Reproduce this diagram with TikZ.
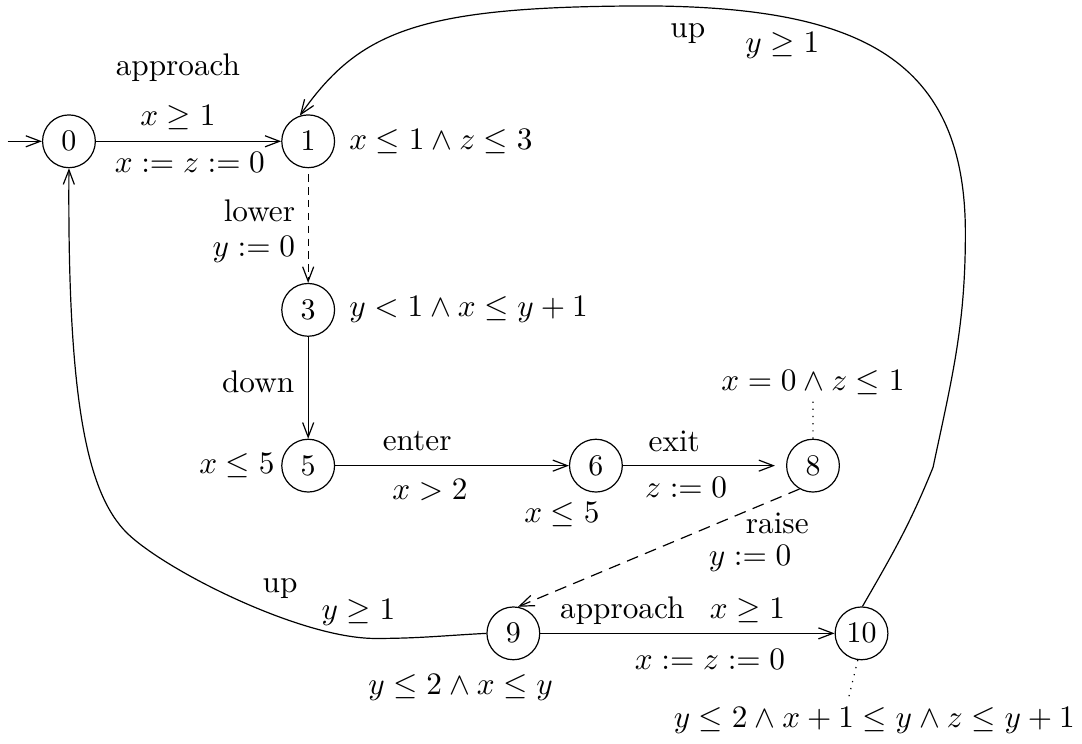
\documentclass[tikz,border=0pt]{standalone}
\usepackage{amsmath,amssymb}
\usetikzlibrary{arrows.meta}

\begin{document}
\begin{tikzpicture}[>={Straight Barb[length=1.7mm,width=1.3mm]},
	loc/.style={circle, draw, minimum size=6.2mm, inner sep=0pt},
	lab/.style={inner sep=1pt, scale=1.045}]
	\useasboundingbox (0,0) rectangle (12.71,8.73);
	% locations
	\node[loc] (n0) at (0.81,7.07) {$0$};
	\node[loc] (n1) at (3.62,7.07) {$1$};
	\node[loc] (n3) at (3.62,5.09) {$3$};
	\node[loc] (n5) at (3.62,3.26) {$5$};
	\node[loc] (n6) at (7.00,3.26) {$6$};
	\node[loc] (n8) at (9.55,3.26) {$8$};
	\node[loc] (n9) at (6.03,1.29) {$9$};
	\node[loc] (n10) at (10.12,1.29) {$10$};
	% invariants
	\node[lab, anchor=west] (inv1) at (4.06,7.07) {$x\leq 1\wedge z\leq 3$};
	\node[lab, anchor=west] (inv3) at (4.06,5.09) {$y<1\wedge x\leq y+1$};
	\node[lab, anchor=east] (inv5) at (3.27,3.26) {$x\leq 5$};
	\node[lab] (inv6) at (6.60,2.68) {$x\leq 5$};
	\node[lab] (inv8) at (9.55,4.24) {$x=0\wedge z\leq 1$};
	\node[lab] (inv9) at (5.41,0.65) {$y\leq 2\wedge x\leq y$};
	\node[lab] (inv10) at (10.27,0.27) {$y\leq 2\wedge x+1\leq y\wedge z\leq y+1$};
	% edge labels
	\node[lab] (act01) at (2.09,7.93) {approach};
	\node[lab] (grd01) at (2.09,7.35) {$x\geq 1$};
	\node[lab] (rst01) at (2.23,6.82) {$x:=z:=0$};
	\node[lab, anchor=east] (act13) at (3.51,6.25) {lower};
	\node[lab, anchor=east] (rst13) at (3.51,5.80) {$y:=0$};
	\node[lab, anchor=east] (act35) at (3.50,4.25) {down};
	\node[lab] (act56) at (4.90,3.55) {enter};
	\node[lab] (grd56) at (5.05,2.97) {$x>2$};
	\node[lab] (act68) at (7.92,3.55) {exit};
	\node[lab] (rst68) at (8.06,3.01) {$z:=0$};
	\node[lab] (act89) at (9.13,2.58) {raise};
	\node[lab] (rst89) at (8.81,2.17) {$y:=0$};
	\node[lab] (act90) at (3.29,1.82) {up};
	\node[lab] (grd90) at (4.21,1.54) {$y\geq 1$};
	\node[lab] (act910) at (7.31,1.56) {approach};
	\node[lab] (grd910) at (8.78,1.56) {$x\geq 1$};
	\node[lab] (rst910) at (8.34,0.98) {$x:=z:=0$};
	\node[lab] (act101) at (8.08,8.34) {up};
	\node[lab] (grd101) at (9.19,8.20) {$y\geq 1$};
	% helper points
	\coordinate (start) at (0.09,7.07);
	\coordinate (d10) at (9.96,0.50);
	\coordinate (r1) at (10.96,3.24);
	\coordinate (r2) at (11.34,5.99);
	\coordinate (r3) at (7.64,8.66);
	\coordinate (w1) at (4.41,1.23);
	\coordinate (w2) at (1.49,2.47);
	% transitions
	\draw[->] (start) -- (n0);
	\draw[->] (n0) -- (n1);
	\draw[->, dash pattern=on 2.5pt off 1.8pt, shorten <=2pt] (n1) -- (n3);
	\draw[->] (n3) -- (n5);
	\draw[->] (n5) -- (n6);
	\draw[->, shorten >=1.3mm] (n6) -- (n8);
	\draw[->, dash pattern=on 4pt off 2.5pt] (n8.240) -- (n9.80);
	\draw[->] (n9) -- (n10);
	\draw[->] (n10.88) to[out=60,in=-112] (r1) to[out=78,in=-90] (r2)
		.. controls (11.34,8.03) and (10.11,8.64) .. (r3)
		.. controls (4.94,8.66) and (4.23,8.38) .. (n1.108);
	\draw[->] (n9.west) to[out=183,in=0] (w1)
		.. controls (3.53,1.23) and (1.94,2.03) .. (w2)
		.. controls (1.02,2.94) and (0.79,4.03) .. (n0.south);
	% invariant pointers
	\draw[dotted] (n8) -- (inv8);
	\draw[dotted] (n10.262) -- (d10);
\end{tikzpicture}
\end{document}
